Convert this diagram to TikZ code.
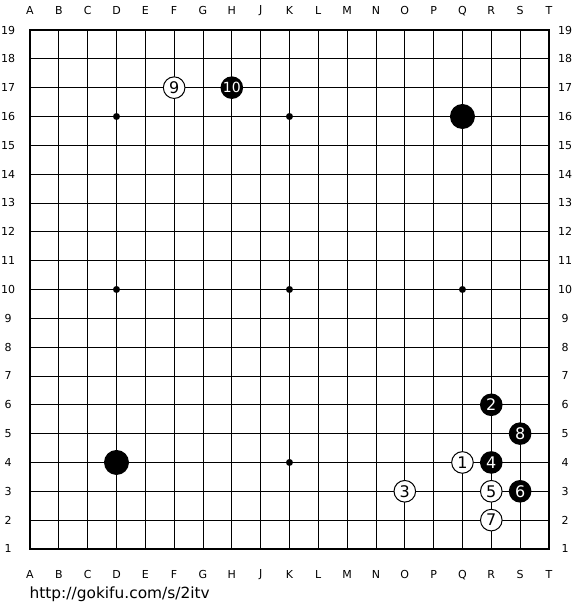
\documentclass[tikz,border=0pt]{standalone}
\usepackage{fontspec}
\setmainfont{DejaVu Sans}

\tikzset{
  gridline/.style={line width=0.9pt},
  edgeline/.style={line width=2.6pt},
  coordlabel/.style={font=\fontsize{11}{12}\selectfont, inner sep=0pt},
  hoshi/.style={circle, fill=black, minimum size=7pt, inner sep=0pt},
  blackstone/.style={circle, fill=black, text=white, minimum size=22.6pt, inner sep=0pt, font=\fontsize{16}{16}\selectfont},
  whitestone/.style={circle, draw=black, line width=1pt, fill=white, minimum size=21.6pt, inner sep=0pt, font=\fontsize{16}{16}\selectfont},
  bigstone/.style={circle, fill=black, minimum size=25pt, inner sep=0pt},
}

\begin{document}
\begin{tikzpicture}[x=28.83pt, y=-28.83pt]
  \useasboundingbox (-1.0406,-1.0406) rectangle (19.077,20.118);

  % board
  \foreach \i in {1,...,17} {
    \draw[gridline] (\i,0) -- (\i,18);
    \draw[gridline] (0,\i) -- (18,\i);
  }
  \draw[edgeline] (0,0) rectangle (18,18);

  % coordinates
  \foreach \l [count=\i from 0] in {A,B,C,D,E,F,G,H,J,K,L,M,N,O,P,Q,R,S,T} {
    \node[coordlabel] (top-\l) at (\i,-0.66) {\l};
    \node[coordlabel] (bot-\l) at (\i,18.90) {\l};
  }
  \foreach \r in {1,...,19} {
    \node[coordlabel] (left-\r) at (-0.76,19-\r) {\r};
    \node[coordlabel] (right-\r) at (18.56,19-\r) {\r};
  }

  % star points
  \foreach \i in {3,9,15}
    \foreach \j in {3,9,15}
      \node[hoshi] (hoshi-\i-\j) at (\i,\j) {};

  % stones
  \node[bigstone] (q16) at (15,3) {};
  \node[bigstone] (d4) at (3,15) {};

  \node[whitestone] (w1) at (15,15) {1};
  \node[blackstone] (b2) at (16,13) {2};
  \node[whitestone] (w3) at (13,16) {3};
  \node[blackstone] (b4) at (16,15) {4};
  \node[whitestone] (w5) at (16,16) {5};
  \node[blackstone] (b6) at (17,16) {6};
  \node[whitestone] (w7) at (16,17) {7};
  \node[blackstone] (b8) at (17,14) {8};
  \node[whitestone] (w9) at (5,2) {9};
  \node[blackstone, font=\fontsize{14}{14}\selectfont] (b10) at (7,2) {10};

  % source
  \node[anchor=west, inner sep=0pt, font=\fontsize{15.4}{15.4}\selectfont] (url) at (-0.02,19.56) {http://gokifu.com/s/2itv};
\end{tikzpicture}
\end{document}
